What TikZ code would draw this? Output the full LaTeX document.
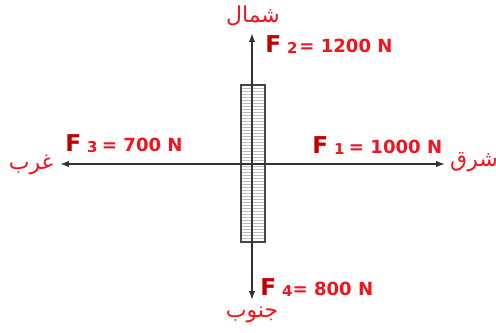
\documentclass[tikz,border=0pt]{standalone}
\usepackage{fontspec}
\setmainfont{DejaVu Sans}
\newfontfamily\arabicfont[Script=Arabic]{DejaVu Sans}
\TeXXeTstate=1
\usetikzlibrary{arrows.meta,positioning}
\definecolor{fred}{HTML}{F0141E}
\definecolor{fdark}{HTML}{C00000}
\definecolor{axis}{HTML}{333333}
\newcommand{\forcelbl}[3]{{\fontsize{13.2}{14}\selectfont\color{fdark}F}\kern3.4pt{\fontsize{8.5}{9}\selectfont\raisebox{-0.6pt}{#1}}#3= #2 N}
\newcommand{\dirlbl}[1]{\arabicfont\beginR #1\endR}

\begin{document}
\begin{tikzpicture}[x=0.02cm,y=-0.02cm,
  force/.style={-{Latex[length=5pt,width=3.6pt]},line width=0.8pt,axis},
  flbl/.style={text=fred,font=\bfseries\fontsize{10.3}{12}\selectfont,inner sep=0pt,anchor=base west},
  dir/.style={text=fred,font=\fontsize{12.5}{14}\selectfont,inner sep=0pt},
  hatch/.style={gray!50,line width=0.5pt}]
\useasboundingbox (0,0) rectangle (496,332);
\coordinate (o) at (252,164);
% the bar
\foreach \yy in {88,91,...,239}
  \draw[hatch] (241,\yy) -- (265,\yy);
\draw[axis!90,line width=0.8pt] (241,85) rectangle (265,242);
% the forces
\coordinate (tipN) at (252,33);
\coordinate (tipS) at (252,300);
\coordinate (tipE) at (445,164);
\coordinate (tipW) at (60,164);
\draw[force] (o) -- (tipN);
\draw[force] (o) -- (tipS);
\draw[force] (o) -- (tipE);
\draw[force] (o) -- (tipW);
\node[flbl] (f2) at (265,52) {\forcelbl{2}{1200}{\kern1pt}};
\node[flbl] (f3) at (65,151) {\forcelbl{3}{700}{\kern2.5pt}};
\node[flbl] (f1) at (312,153) {\forcelbl{1}{1000}{\kern2.5pt}};
\node[flbl] (f4) at (260,295) {\forcelbl{4}{800}{}};
\node[dir] (n) at (253,16) {\dirlbl{شمال}};
\node[dir] (w) at (31,165) {\dirlbl{غرب}};
\node[dir] (e) at (474,162) {\dirlbl{شرق}};
\node[dir] (s) at (252,315) {\dirlbl{جنوب}};
\end{tikzpicture}
\end{document}
